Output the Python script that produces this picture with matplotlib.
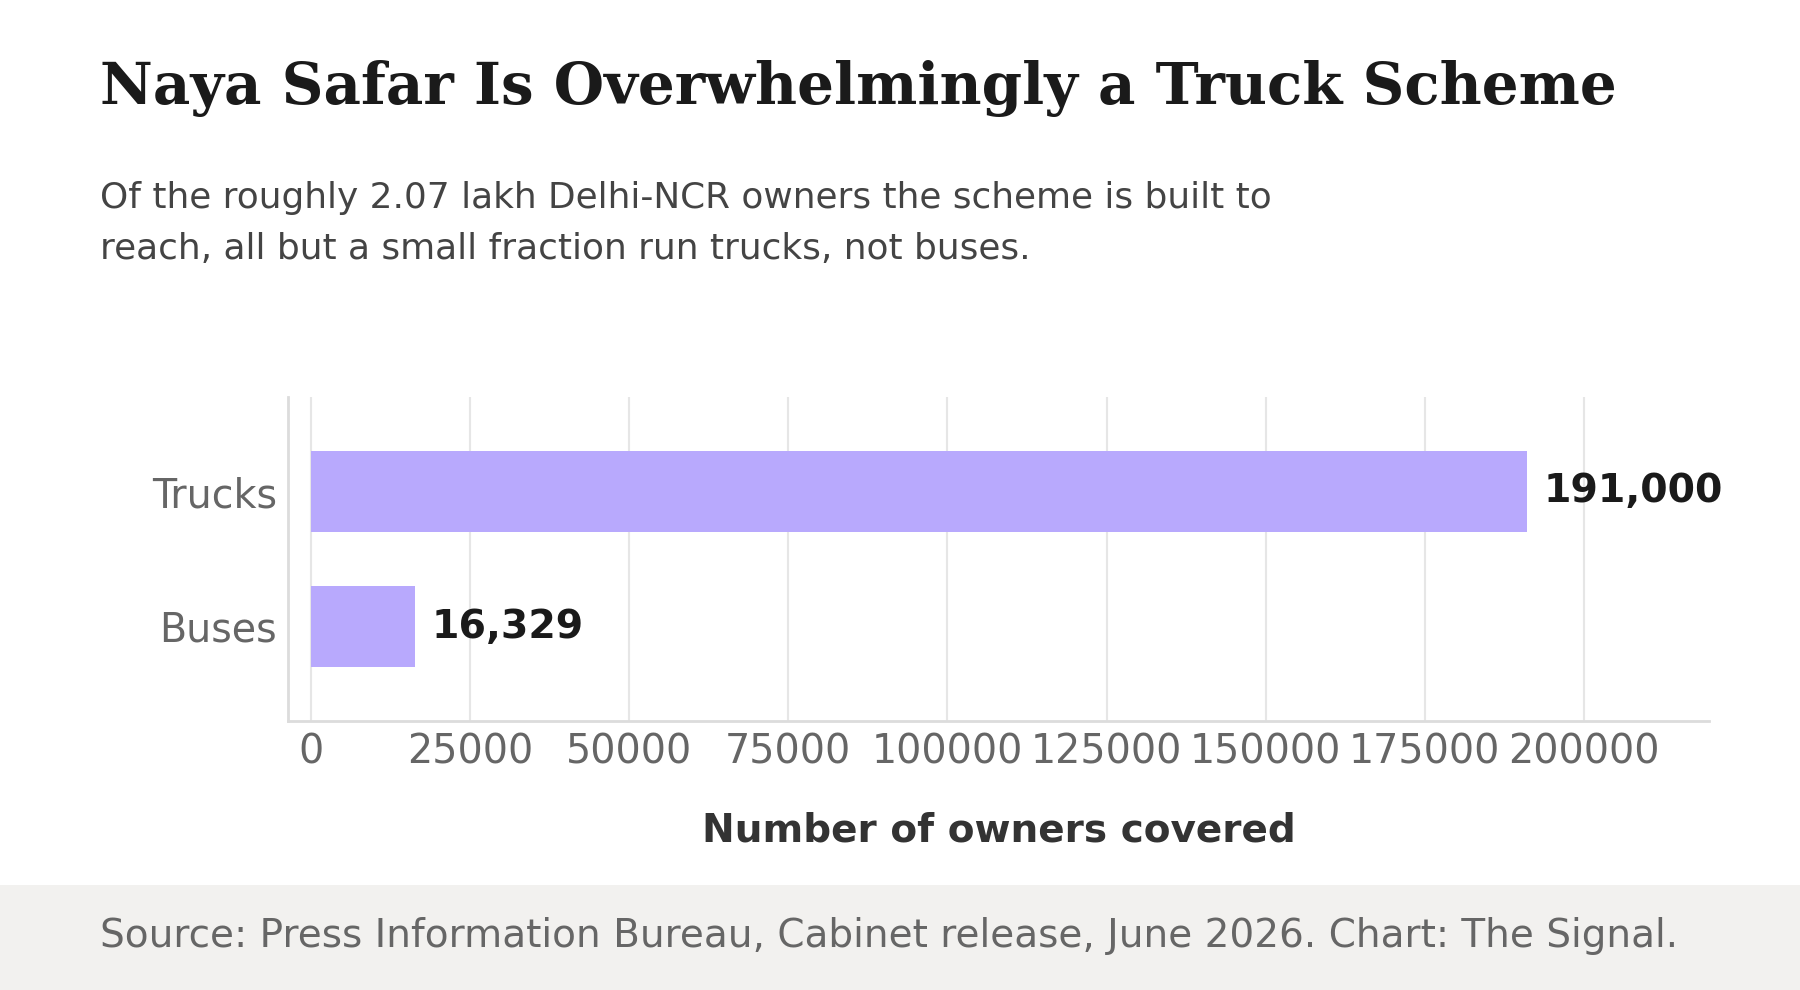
import matplotlib
matplotlib.use("Agg")
from matplotlib import pyplot as plt
from matplotlib.patches import Rectangle

# data
categories = ["Buses", "Trucks"]
owners = [16329, 191000]
value_labels = ["16,329", "191,000"]
x_ticks = [0, 25000, 50000, 75000, 100000, 125000, 150000, 175000, 200000]

title = "Naya Safar Is Overwhelmingly a Truck Scheme"
subtitle_lines = ["Of the roughly 2.07 lakh Delhi-NCR owners the scheme is built to",
                  "reach, all but a small fraction run trucks, not buses."]
source = "Source: Press Information Bureau, Cabinet release, June 2026. Chart: The Signal."

bar_color = "#b8a9fd"
grid_color = "#e6e6e6"
spine_color = "#dcdcdc"

W, H = 1800, 990
fig = plt.figure(figsize=(W / 100, H / 100), dpi=100)
fig.patch.set_facecolor("white")

# footer band
fig.patches.append(Rectangle((0, 0), 1, 1 - 885 / H, transform=fig.transFigure,
                             facecolor="#f2f1ef", edgecolor="none", zorder=0))

fig.text(100 / W, 1 - 104 / H, title, family="DejaVu Serif", fontweight="bold",
         fontsize=41.7, color="#1a1a1a", va="baseline", ha="left")
for line, base in zip(subtitle_lines, [208, 259]):
    fig.text(100 / W, 1 - base / H, line, family="DejaVu Sans", fontsize=25.8,
             color="#444444", va="baseline", ha="left")
fig.text(100 / W, 1 - 936 / H, source, family="DejaVu Sans", fontsize=28.1,
         color="#666666", va="center", ha="left")

ax = fig.add_axes([288 / W, 1 - 721 / H, (1709 - 288) / W, (721 - 397) / H])
y = list(range(len(categories)))
ax.barh(y, owners, height=0.6, color=bar_color, zorder=2)
ax.set_xlim(-3600, max(owners) * 1.15)
ax.set_ylim(-0.7, 1.7)
ax.set_yticks(y)
ax.set_yticklabels(categories)
ax.set_xticks(x_ticks)
ax.set_xticklabels([str(t) for t in x_ticks])

for yi, v, lab in zip(y, owners, value_labels):
    ax.annotate(lab, (v, yi), xytext=(12, 0), textcoords="offset points",
                va="center", ha="left", fontsize=28.4, fontweight="bold", color="#1a1a1a")

ax.grid(axis="x", color=grid_color, linewidth=1.5, zorder=0)
ax.set_axisbelow(True)
for s in ["top", "right"]:
    ax.spines[s].set_visible(False)
for s in ["left", "bottom"]:
    ax.spines[s].set_color(spine_color)
    ax.spines[s].set_linewidth(2)
ax.tick_params(axis="both", length=0, labelsize=28.5, labelcolor="#666666", pad=8)
ax.set_xlabel("Number of owners covered", fontsize=28.1, fontweight="bold",
              color="#333333", labelpad=28)

fig.savefig("out.png", dpi=100)
